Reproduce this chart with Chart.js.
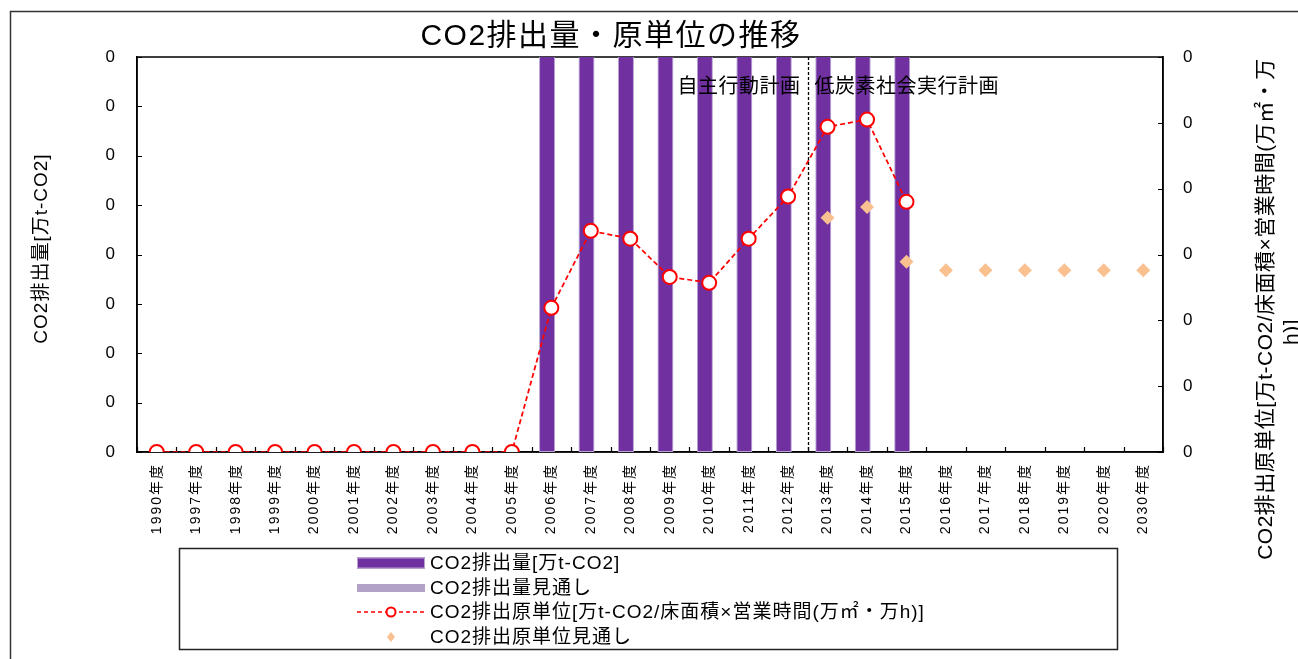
<!DOCTYPE html>
<html><head><meta charset="utf-8">
<script src="https://cdn.jsdelivr.net/npm/chart.js@4/dist/chart.umd.min.js"></script>
<style>html,body{margin:0;padding:0;background:#fff;}canvas{display:block;}</style>
</head><body>
<canvas id="c" width="1298" height="659"></canvas>
<script>
// ---- data ----
const categories = ['1990年度','1997年度','1998年度','1999年度','2000年度','2001年度','2002年度','2003年度','2004年度','2005年度','2006年度','2007年度','2008年度','2009年度','2010年度','2011年度','2012年度','2013年度','2014年度','2015年度','2016年度','2017年度','2018年度','2019年度','2020年度','2030年度'];
// bars exceed the (unreadable) axis range and are cut at the top of the plot
const emissions = [null,null,null,null,null,null,null,null,null,null,0.5,0.5,0.5,0.5,0.5,0.5,0.5,0.5,0.5,0.5,null,null,null,null,null,null];
const emissionsOutlook = [null,null,null,null,null,null,null,null,null,null,null,null,null,null,null,null,null,null,null,null,null,null,null,null,null,null];
const intensity = [0,0,0,0,0,0,0,0,0,0,0.0219,0.0336,0.0324,0.0266,0.0257,0.0324,0.0388,0.0494,0.0505,0.0380,null,null,null,null,null,null];
const intensityOutlook = [null,null,null,null,null,null,null,null,null,null,null,null,null,null,null,null,null,0.0356,0.0372,0.0289,0.0276,0.0276,0.0276,0.0276,0.0276,0.0276];
const seriesLabels = ['CO2排出量[万t-CO2]','CO2排出量見通し','CO2排出原単位[万t-CO2/床面積×営業時間(万㎡・万h)]','CO2排出原単位見通し'];
const chartTitle = 'CO2排出量・原単位の推移';
const leftAxisTitle = 'CO2排出量[万t-CO2]';
const rightAxisTitle = ['CO2排出原単位[万t-CO2/床面積×営業時間(万㎡・万','h)]'];
const phaseLabels = ['自主行動計画','低炭素社会実行計画'];
const phaseBoundary = ['2012年度','2013年度'];

const FONT = "'Liberation Sans', 'Noto Sans CJK JP', sans-serif";

const decor = {
  id: 'decor',
  beforeDraw(chart) {
    const ctx = chart.ctx;
    ctx.save(); ctx.fillStyle = '#fff'; ctx.fillRect(0, 0, chart.width, chart.height); ctx.restore();
    ctx.letterSpacing = '2px';
  },
  beforeDatasetsDraw(chart) {
    const {ctx, chartArea: a, scales} = chart;
    ctx.save();
    ctx.strokeStyle = '#000'; ctx.lineWidth = 1.5;
    ctx.strokeRect(a.left, a.top, a.right - a.left, a.bottom - a.top);
    // inward tick marks
    ctx.lineWidth = 1.2;
    ctx.beginPath();
    const x = scales.x;
    const step = x.getPixelForValue(1) - x.getPixelForValue(0);
    for (let i = 0; i <= categories.length; i++) {
      const px = Math.round(x.getPixelForValue(0) - step / 2 + i * step) + 0.5;
      ctx.moveTo(px, a.bottom); ctx.lineTo(px, a.bottom - 5);
    }
    scales.y.ticks.forEach(t => { const py = Math.round(scales.y.getPixelForValue(t.value)) + 0.5; ctx.moveTo(a.left, py); ctx.lineTo(a.left + 5, py); });
    scales.y1.ticks.forEach(t => { const py = Math.round(scales.y1.getPixelForValue(t.value)) + 0.5; ctx.moveTo(a.right, py); ctx.lineTo(a.right - 5, py); });
    ctx.stroke();
    ctx.restore();
  },
  afterDatasetsDraw(chart) {
    const {ctx, chartArea: a, scales} = chart;
    const x = scales.x;
    ctx.save();
    const i0 = categories.indexOf(phaseBoundary[0]), i1 = categories.indexOf(phaseBoundary[1]);
    const bx = Math.round((x.getPixelForValue(i0) + x.getPixelForValue(i1)) / 2) + 0.5;
    ctx.strokeStyle = '#000'; ctx.lineWidth = 1.3; ctx.setLineDash([3, 2]);
    ctx.beginPath(); ctx.moveTo(bx, a.top); ctx.lineTo(bx, a.bottom); ctx.stroke();
    ctx.setLineDash([]);
    ctx.fillStyle = '#000';
    ctx.font = '20px ' + FONT; ctx.letterSpacing = '0.5px'; ctx.textBaseline = 'middle';
    ctx.textAlign = 'right'; ctx.fillText(phaseLabels[0], bx - 8, a.top + 30);
    ctx.textAlign = 'left'; ctx.fillText(phaseLabels[1], bx + 6, a.top + 30);
    ctx.restore();
  },
  afterDraw(chart) {
    const {ctx, chartArea: a} = chart;
    ctx.save();
    ctx.fillStyle = '#000';
    ctx.lineWidth = 1.5; ctx.strokeStyle = '#333';
    ctx.beginPath(); ctx.moveTo(10.5, chart.height + 5); ctx.lineTo(10.5, 11.5); ctx.lineTo(chart.width + 5, 11.5); ctx.stroke();
    // title
    ctx.font = '30px ' + FONT; ctx.letterSpacing = '1.5px';
    ctx.textAlign = 'center'; ctx.textBaseline = 'middle';
    ctx.fillText(chartTitle, 611, 37);
    // left axis title
    ctx.font = '19px ' + FONT; ctx.letterSpacing = '1px';
    ctx.save(); ctx.translate(42, (a.top + a.bottom) / 2 - 6); ctx.rotate(-Math.PI / 2);
    ctx.fillText(leftAxisTitle, 0, 0); ctx.restore();
    // right axis title (two lines, reading upward)
    ctx.font = '21px ' + FONT; ctx.letterSpacing = '0.5px';
    ctx.save(); ctx.translate(1266, 309); ctx.rotate(-Math.PI / 2);
    ctx.fillText(rightAxisTitle[0], 0, 0); ctx.restore();
    ctx.save(); ctx.translate(1292, 332); ctx.rotate(-Math.PI / 2);
    ctx.fillText(rightAxisTitle[1], 0, 0); ctx.restore();
    // legend
    ctx.strokeStyle = '#222'; ctx.lineWidth = 1.5;
    ctx.strokeRect(179.5, 548.5, 938, 101);
    const rows = [563, 588, 612, 637];
    const sx0 = 357, sx1 = 425, tx = 430;
    const ds = chart.data.datasets;
    ctx.font = '19px ' + FONT; ctx.letterSpacing = '1px'; ctx.textAlign = 'left'; ctx.textBaseline = 'middle';
    ds.forEach((d, k) => {
      const y = rows[k];
      if (k === 0) {
        ctx.fillStyle = d.backgroundColor; ctx.fillRect(sx0, y - 5.5, sx1 - sx0, 11);
        ctx.strokeStyle = d.borderColor; ctx.lineWidth = 1; ctx.strokeRect(sx0 + 0.5, y - 5, sx1 - sx0 - 1, 10);
      } else if (k === 1) {
        ctx.fillStyle = d.backgroundColor; ctx.fillRect(sx0, y - 4, sx1 - sx0, 8);
      } else if (k === 2) {
        ctx.strokeStyle = d.borderColor; ctx.lineWidth = 1.5; ctx.setLineDash([4, 3]);
        ctx.beginPath(); ctx.moveTo(sx0, y); ctx.lineTo(sx1, y); ctx.stroke(); ctx.setLineDash([]);
        ctx.fillStyle = '#fff'; ctx.lineWidth = 2;
        ctx.beginPath(); ctx.arc((sx0 + sx1) / 2, y, 4.5, 0, Math.PI * 2); ctx.fill(); ctx.stroke();
      } else {
        ctx.fillStyle = d.backgroundColor; const cx = (sx0 + sx1) / 2;
        ctx.beginPath(); ctx.moveTo(cx - 4, y); ctx.lineTo(cx, y - 5); ctx.lineTo(cx + 4, y); ctx.lineTo(cx, y + 5); ctx.closePath(); ctx.fill();
      }
      ctx.fillStyle = '#000';
      ctx.fillText(d.label, tx, y + 1);
    });
    ctx.restore();
  }
};

new Chart(document.getElementById('c'), {
  data: {
    labels: categories,
    datasets: [
      { type: 'bar', label: seriesLabels[0], data: emissions, yAxisID: 'y',
        backgroundColor: '#7030A0', borderColor: '#B7A3D3', borderWidth: 1, borderSkipped: false,
        categoryPercentage: 0.436, barPercentage: 1.86, clip: 0, order: 2 },
      { type: 'bar', label: seriesLabels[1], data: emissionsOutlook, yAxisID: 'y',
        backgroundColor: '#B3A2C7', borderColor: '#B3A2C7', borderWidth: 0,
        categoryPercentage: 0.436, barPercentage: 1.86, clip: 0, order: 3 },
      { type: 'line', label: seriesLabels[2], data: intensity, yAxisID: 'y1',
        borderColor: '#FF0000', borderWidth: 1.75, borderDash: [5, 3], fill: false, tension: 0,
        pointRadius: 7, pointHoverRadius: 7, pointBackgroundColor: '#FFFFFF', pointBorderColor: '#FF0000', pointBorderWidth: 2,
        spanGaps: false, order: 0 },
      { type: 'line', label: seriesLabels[3], data: intensityOutlook, yAxisID: 'y1',
        showLine: false, backgroundColor: '#FAC090', borderColor: '#FAC090',
        pointStyle: 'rectRot', pointRadius: 7, pointHoverRadius: 7, pointBackgroundColor: '#FAC090', pointBorderWidth: 0,
        order: 1 }
    ]
  },
  options: {
    responsive: false, animation: false, devicePixelRatio: 1,
    layout: { padding: { top: 57, left: 0, right: 0, bottom: 0 } },
    plugins: { legend: { display: false }, title: { display: false }, tooltip: { enabled: false } },
    scales: {
      x: {
        type: 'category', offset: true,
        grid: { display: false },
        border: { display: true, color: '#000', width: 1.5 },
        ticks: { autoSkip: false, minRotation: 90, maxRotation: 90, padding: 3, color: '#000', font: { family: FONT, size: 14 } },
        afterFit: s => { s.height = 207; }
      },
      y: {
        position: 'left', min: 0, max: 0.4,
        ticks: { stepSize: 0.05, padding: 12, color: '#000', font: { family: FONT, size: 17 }, callback: v => Number(v).toFixed(0) },
        grid: { display: false },
        border: { display: true, color: '#000', width: 1.5 },
        afterFit: s => { s.width = 137; }
      },
      y1: {
        position: 'right', min: 0, max: 0.06,
        ticks: { stepSize: 0.01, padding: 12, color: '#000', font: { family: FONT, size: 17 }, callback: v => Number(v).toFixed(0) },
        grid: { display: false },
        border: { display: true, color: '#000', width: 1.5 },
        afterFit: s => { s.width = 135; }
      }
    }
  },
  plugins: [decor]
});
</script>
</body></html>
